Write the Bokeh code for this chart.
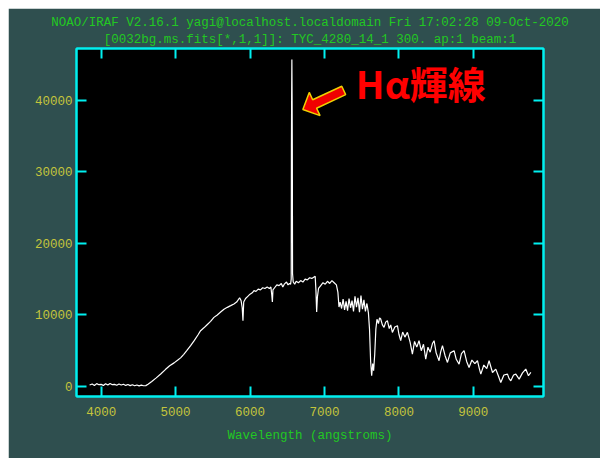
from bokeh.plotting import figure
from bokeh.models import LinearAxis, FixedTicker, Title, Label, NumeralTickFormatter, ColumnDataSource
from bokeh.embed import file_html
from bokeh.resources import INLINE

# ---------------- data ----------------
title_line1 = "NOAO/IRAF V2.16.1 yagi@localhost.localdomain Fri 17:02:28 09-Oct-2020"
title_line2 = "[0032bg.ms.fits[*,1,1]]: TYC_4280_14_1 300. ap:1 beam:1"
x_label = "Wavelength (angstroms)"
annot_text = "Hα輝線"

x_ticks = [4000, 5000, 6000, 7000, 8000, 9000]
y_ticks = [0, 10000, 20000, 30000, 40000]

wavelength = [
    3845, 3880, 3910, 3940, 3970, 4000, 4030, 4060, 4090, 4120, 4150, 4180, 4210, 4240,
    4270, 4300, 4330, 4360, 4390, 4420, 4450, 4480, 4510, 4540, 4570, 4600,
    4630, 4680, 4740, 4800, 4866, 4920, 4980, 5030, 5067, 5110, 5150, 5202, 5250, 5300,
    5336, 5380, 5420, 5470, 5515, 5560, 5605, 5650, 5695, 5740, 5784, 5820, 5860, 5880,
    5895, 5905, 5915, 5940, 5970, 6000, 6030, 6053, 6080, 6110, 6140, 6170, 6200, 6230,
    6260, 6280, 6292, 6300, 6308, 6330, 6360, 6390, 6420, 6440, 6460, 6490, 6510, 6530,
    6545, 6553, 6556, 6559, 6562, 6565, 6568, 6571, 6580, 6600, 6620, 6650, 6680, 6710,
    6740, 6770, 6800, 6830, 6860, 6875, 6885, 6895, 6905, 6920, 6950, 6980, 7010, 7040,
    7070, 7100, 7130, 7160, 7180, 7195, 7210, 7230, 7250, 7270, 7290, 7310, 7330, 7350,
    7370, 7390, 7410, 7430, 7450, 7470, 7490, 7510, 7530, 7550, 7570, 7590, 7605, 7620,
    7634, 7648, 7660, 7675, 7690, 7705, 7725, 7740, 7755, 7778, 7800, 7822, 7845, 7870,
    7890, 7912, 7945, 7980, 8000, 8024, 8050, 8080, 8114, 8150, 8181, 8210, 8240, 8270,
    8300, 8330, 8360, 8390, 8420, 8450, 8472, 8500, 8539, 8560, 8585, 8620, 8652, 8690,
    8741, 8770, 8808, 8840, 8875, 8910, 8942, 8980, 9020, 9055, 9080, 9100, 9140, 9180,
    9211, 9257, 9301, 9335, 9368, 9410, 9458, 9480, 9503, 9540, 9570, 9615, 9660, 9704,
    9740, 9772,
]
flux = [
    200, 350, 150, 400, 250, 300, 150, 380, 200, 420, 250, 300, 180, 350,
    200, 320, 150, 280, 120, 250, 100, 200, 80, 180, 100, 120,
    300, 700, 1200, 1750, 2400, 2900, 3300, 3700, 4000, 4500, 5000, 5700, 6400, 7200,
    7800, 8200, 8600, 9100, 9660, 10000, 10400, 10800, 11060, 11300, 11540, 11800, 12400, 12000,
    11000, 9200, 11800, 12300, 12600, 12900, 13100, 13400, 13300, 13600, 13500, 13800, 13700, 13900,
    13700, 13900, 12800, 11800, 13500, 13800, 14200, 14100, 14400, 13900, 14300, 14600, 14200, 14400,
    14300, 15000, 33500, 40500, 45700, 40500, 33300, 15800, 14600, 14300, 14700, 14500, 14800, 14600,
    15000, 14900, 15200, 15100, 15300, 15400, 13500, 10400, 12500, 13700, 14100, 14500, 14300, 14700,
    14400, 14800, 14500, 14200, 13200, 11100, 11800, 10900, 12200, 10700, 11900, 10600, 12300, 11000,
    12000, 10500, 12600, 11100, 12400, 10400, 12700, 10800, 12100, 10500, 11600, 10300, 8000, 3500,
    1500, 3200, 2200, 4500, 8000, 9400, 8800, 9600, 9430, 8600, 8260, 9000, 9200, 8100,
    8600, 7560, 8300, 8500, 7300, 6400, 7600, 6900, 7560, 6200, 4530, 6300, 5500, 6400,
    5000, 5900, 3830, 5500, 4800, 6000, 6400, 4700, 3600, 4800, 5700, 4300, 3360, 4700,
    5000, 3800, 3130, 4600, 5000, 3500, 2660, 3700, 3200, 3600, 2500, 1730, 3000, 2500,
    3600, 1960, 2430, 1500, 560, 1600, 1730, 1100, 800, 1600, 1730, 1030, 1900, 2430,
    1500, 1960,
]

# ---------------- style ----------------
BG = "#2F4F4F"
CYAN = "#00F0F0"
YELLOW = "#C4C43C"
GREEN = "#22C822"
MONO = "Liberation Mono"
FS = "12.5px"

X0, X1 = 3669, 9942
Y0, Y1 = -1400, 47238
W, H = 592, 450
ML, MR, MT, MB = 68, 57, 40, 62

p = figure(width=W, height=H, x_range=(X0, X1), y_range=(Y0, Y1),
           output_backend="svg", toolbar_location=None, title=None,
           background_fill_color="black", border_fill_color=BG,
           min_border_left=ML, min_border_right=MR, min_border_top=MT, min_border_bottom=MB)
p.margin = (8, 0, 0, 8)
p.grid.visible = False
p.outline_line_color = CYAN
p.outline_line_width = 2

def style_axis(ax, labels=True):
    ax.axis_line_color = CYAN
    ax.axis_line_width = 2
    ax.major_tick_line_color = CYAN
    ax.major_tick_line_width = 2
    ax.major_tick_in = 10
    ax.major_tick_out = 0
    ax.minor_tick_line_color = None
    ax.major_label_text_color = YELLOW if labels else None
    ax.major_label_text_font = MONO
    ax.major_label_text_font_size = FS if labels else "0px"
    ax.axis_label_text_color = GREEN
    ax.axis_label_text_font = MONO
    ax.axis_label_text_font_size = FS
    ax.axis_label_text_font_style = "normal"
    ax.formatter = NumeralTickFormatter(format="0")

p.xaxis.ticker = FixedTicker(ticks=x_ticks)
p.yaxis.ticker = FixedTicker(ticks=y_ticks)
for ax in p.xaxis + p.yaxis:
    style_axis(ax)
p.xaxis.axis_label = x_label
p.xaxis.major_label_standoff = 10
p.xaxis.axis_label_standoff = 10
p.yaxis.major_label_standoff = 4

top_ax = LinearAxis(ticker=FixedTicker(ticks=x_ticks))
right_ax = LinearAxis(ticker=FixedTicker(ticks=y_ticks))
style_axis(top_ax, labels=False)
style_axis(right_ax, labels=False)
p.add_layout(top_ax, "above")
p.add_layout(right_ax, "right")

for txt, so in ((title_line2, 3), (title_line1, 0)):
    p.add_layout(Title(text=txt, align="center", text_color=GREEN, text_font=MONO,
                       text_font_size=FS, text_font_style="normal", standoff=so,
                       text_line_height=0.9), "above")

src = ColumnDataSource(data=dict(x=wavelength, y=flux))
p.line("x", "y", source=src, line_color="white", line_width=1.2)

# ---------------- annotation ----------------
dxpp = (X1 - X0) / (W - ML - MR)
dypp = (Y1 - Y0) / (H - MT - MB)
peak_i = flux.index(max(flux))
tip_x = wavelength[peak_i] + 11 * dxpp
tip_y = max(flux) - 50 * dypp
arrow_px = [(0, 0), (17.2, 6.1), (13.7, -1.3), (42.8, -14.9), (38.9, -23.2), (9.8, -9.7), (6.4, -17.1)]
ax_ = [tip_x + dx * dxpp for dx, dy in arrow_px]
ay_ = [tip_y - dy * dypp for dx, dy in arrow_px]
p.patch(ax_, ay_, fill_color="#F00000", line_color="#F0D000", line_width=1.5)

p.add_layout(Label(x=tip_x + 53 * dxpp, y=tip_y + 27 * dypp, text=annot_text,
                   text_color="#FF0000", text_font="Noto Sans CJK JP", text_font_size="38px",
                   text_font_style="bold", text_baseline="alphabetic", text_align="left"))

open("out.html", "w").write(file_html(p, INLINE))
